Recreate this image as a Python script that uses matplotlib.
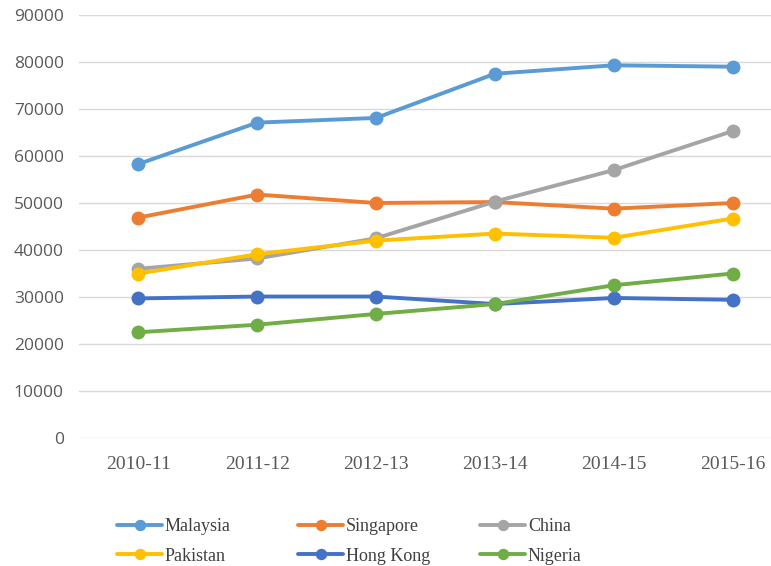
import matplotlib
matplotlib.use("Agg")
import matplotlib.pyplot as plt

years = ["2010-11", "2011-12", "2012-13", "2013-14", "2014-15", "2015-16"]
malaysia = [58300, 67100, 68100, 77500, 79300, 79000]
singapore = [46900, 51800, 50000, 50200, 48800, 50000]
china = [36000, 38200, 42500, 50300, 57000, 65300]
pakistan = [35000, 39100, 42000, 43500, 42600, 46700]
hong_kong = [29700, 30100, 30100, 28500, 29800, 29400]
nigeria = [22500, 24100, 26400, 28500, 32500, 35000]

series = [
    ("Malaysia", malaysia, "#5B9BD5"),
    ("Singapore", singapore, "#ED7D31"),
    ("China", china, "#A5A5A5"),
    ("Pakistan", pakistan, "#FFC000"),
    ("Hong Kong", hong_kong, "#4472C4"),
    ("Nigeria", nigeria, "#70AD47"),
]

fig = plt.figure(figsize=(7.71, 5.66), dpi=100)
# axes runs a little past the right edge, like the cropped original
ax = fig.add_axes([79 / 771, 128 / 566, 713 / 771, 423 / 566])

x = list(range(len(years)))
lines = []
for name, vals, col in series:
    ln, = ax.plot(x, vals, color=col, lw=2.8, marker="o", ms=9, label=name,
                  solid_capstyle="round", zorder=3)
    lines.append(ln)

ax.set_xlim(-0.5, 5.5)
ax.set_ylim(0, 90000)
ax.set_yticks(range(0, 90001, 10000))
ax.set_xticks(x)
ax.set_xticklabels(years, fontfamily="Liberation Serif", fontsize=14, color="#595959")
for t in ax.get_yticklabels():
    t.set_fontfamily("Open Sans")
    t.set_fontsize(12.5)
    t.set_color("#595959")
ax.tick_params(axis="both", length=0)
ax.tick_params(axis="x", pad=13)
ax.tick_params(axis="y", pad=11)
ax.grid(axis="y", color="#D9D9D9", lw=1)
ax.set_axisbelow(True)
for s in ax.spines.values():
    s.set_visible(False)

# legend laid out row-wise in three fixed columns
col_x = [117, 298, 480]
for i, cx in enumerate(col_x):
    hs = [lines[i], lines[i + 3]]
    leg = fig.legend(hs, [h.get_label() for h in hs], loc="upper left",
                     bbox_to_anchor=(cx / 771, 1 - 518 / 566), ncol=1,
                     frameon=False, prop={"family": "Liberation Serif", "size": 13},
                     handlelength=2.5, handletextpad=0.15, markerscale=0.8,
                     labelspacing=0.7, borderaxespad=0, borderpad=0,
                     labelcolor="#404040")

fig.savefig("out.png", dpi=100)
